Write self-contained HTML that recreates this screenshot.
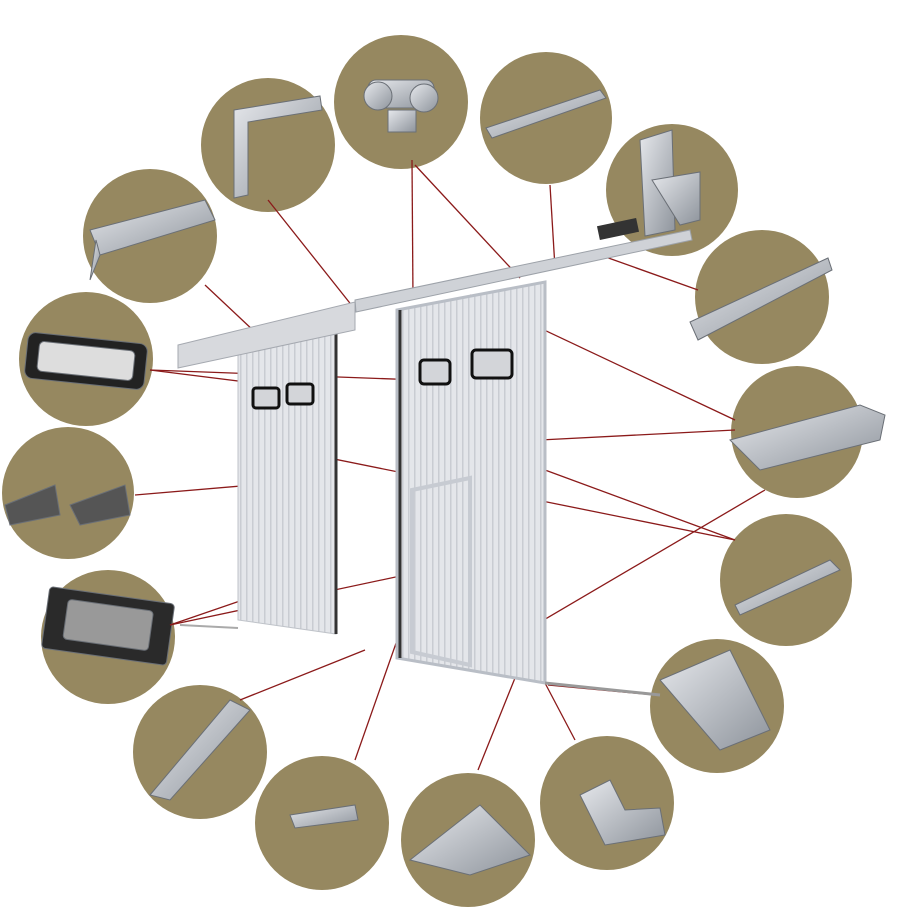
<!DOCTYPE html>
<html><head><meta charset="utf-8"><style>
html,body{margin:0;padding:0;background:#fff;width:905px;height:907px;overflow:hidden}
</style></head><body>
<svg width="905" height="907" viewBox="0 0 905 907" xmlns="http://www.w3.org/2000/svg">
<defs>
<pattern id="rib" width="6" height="10" patternUnits="userSpaceOnUse">
<rect width="6" height="10" fill="#e4e6ea"/><rect width="1.5" height="10" fill="#c9ccd2"/>
</pattern>
<linearGradient id="met" x1="0" y1="0" x2="1" y2="1"><stop offset="0" stop-color="#e6e8ec"/><stop offset="1" stop-color="#8e949c"/></linearGradient>
</defs>
<g fill="#968860">
<circle cx="401" cy="102" r="67"/>
<circle cx="268" cy="145" r="67"/>
<circle cx="546" cy="118" r="66"/>
<circle cx="672" cy="190" r="66"/>
<circle cx="150" cy="236" r="67"/>
<circle cx="762" cy="297" r="67"/>
<circle cx="86" cy="359" r="67"/>
<circle cx="797" cy="432" r="66"/>
<circle cx="68" cy="493" r="66"/>
<circle cx="786" cy="580" r="66"/>
<circle cx="108" cy="637" r="67"/>
<circle cx="717" cy="706" r="67"/>
<circle cx="200" cy="752" r="67"/>
<circle cx="607" cy="803" r="67"/>
<circle cx="322" cy="823" r="67"/>
<circle cx="468" cy="840" r="67"/>
</g>
<!-- parts in circles -->
<g fill="url(#met)" stroke="#6a6f76" stroke-width="1">
<rect x="368" y="80" width="66" height="28" rx="8"/><circle cx="378" cy="96" r="14"/><circle cx="424" cy="98" r="14"/><rect x="388" y="110" width="28" height="22"/>
<path d="M234 110 L320 96 L322 110 L248 122 L248 195 L234 198Z"/>
<path d="M486 128 L600 90 L606 98 L492 138Z"/>
<path d="M640 140 L672 130 L675 230 L645 236Z"/><path d="M652 180 L700 172 L700 220 L680 225Z"/>
<path d="M90 230 L205 200 L215 220 L100 255 Z"/><path d="M96 240 L90 280 L100 255Z"/>
<path d="M690 322 L828 258 L832 270 L698 340Z"/>
<rect x="26" y="338" width="120" height="46" rx="8" fill="#222" transform="rotate(6 86 361)"/><rect x="38" y="346" width="96" height="30" rx="5" fill="#ddd" transform="rotate(6 86 361)"/>
<path d="M730 440 L860 405 L885 415 L880 440 L760 470 Z"/>
<path d="M5 505 L55 485 L60 515 L10 525Z" fill="#555"/><path d="M70 505 L125 485 L130 515 L80 525Z" fill="#555"/>
<path d="M735 605 L830 560 L840 570 L740 615Z"/>
<rect x="45" y="595" width="126" height="62" rx="4" fill="#2a2a2a" transform="rotate(8 108 626)"/><rect x="65" y="605" width="86" height="40" rx="4" fill="#999" transform="rotate(8 108 626)"/>
<path d="M660 680 L730 650 L770 730 L720 750Z"/>
<path d="M150 795 L230 700 L250 710 L170 800Z"/>
<path d="M290 815 L355 805 L358 820 L295 828Z"/>
<path d="M410 860 L480 805 L530 855 L470 875Z"/>
<path d="M580 795 L610 780 L625 810 L660 808 L665 835 L605 845Z"/>
</g>
<!-- leader lines -->
<g stroke="#8b1a1a" stroke-width="1.3" fill="none">
<line x1="268" y1="200" x2="353" y2="307"/>
<line x1="205" y1="285" x2="255" y2="332"/>
<line x1="412" y1="160" x2="413" y2="300"/>
<line x1="415" y1="165" x2="520" y2="278"/>
<line x1="550" y1="185" x2="555" y2="268"/>
<line x1="600" y1="255" x2="698" y2="290"/>
<line x1="150" y1="370" x2="420" y2="380"/>
<line x1="150" y1="370" x2="270" y2="385"/>
<line x1="470" y1="295" x2="735" y2="420"/>
<line x1="540" y1="440" x2="735" y2="430"/>
<line x1="240" y1="440" x2="735" y2="540"/>
<line x1="545" y1="470" x2="735" y2="540"/>
<line x1="135" y1="495" x2="335" y2="478"/>
<line x1="765" y1="490" x2="462" y2="668"/>
<line x1="170" y1="625" x2="330" y2="570"/>
<line x1="170" y1="625" x2="405" y2="575"/>
<line x1="240" y1="700" x2="365" y2="650"/>
<line x1="355" y1="760" x2="420" y2="575"/>
<line x1="478" y1="770" x2="515" y2="678"/>
<line x1="575" y1="740" x2="545" y2="683"/>
<line x1="548" y1="685" x2="655" y2="695"/>
</g>
<!-- doors -->
<polygon points="238,345 336,333 336,634 238,620" fill="url(#rib)" stroke="#bfc3c9"/>
<line x1="336" y1="333" x2="336" y2="634" stroke="#333" stroke-width="3"/>
<polygon points="397,310 545,282 545,683 397,658" fill="url(#rib)" stroke="#b9bec6" stroke-width="3"/>
<line x1="400" y1="310" x2="400" y2="658" stroke="#333" stroke-width="3"/>
<polygon points="412,490 470,478 470,665 412,652" fill="url(#rib)" stroke="#c7cbd2" stroke-width="4"/>
<g fill="#d3d5d9" stroke="#111" stroke-width="3">
<rect x="420" y="360" width="30" height="24" rx="4"/><rect x="472" y="350" width="40" height="28" rx="4"/>
<rect x="253" y="388" width="26" height="20" rx="3"/><rect x="287" y="384" width="26" height="20" rx="3"/>
</g>
<!-- rail -->
<polygon points="178,345 355,302 355,330 178,368" fill="#d7d9dd" stroke="#a5a9b0"/>
<polygon points="355,300 690,230 692,240 356,312" fill="#cfd2d7" stroke="#9da2a9"/>
<rect x="598" y="222" width="40" height="14" fill="#333" transform="rotate(-12 618 229)"/>
<line x1="545" y1="683" x2="660" y2="695" stroke="#999" stroke-width="3"/>
<line x1="180" y1="625" x2="238" y2="628" stroke="#aaa" stroke-width="2"/>
</svg>
</body></html>
